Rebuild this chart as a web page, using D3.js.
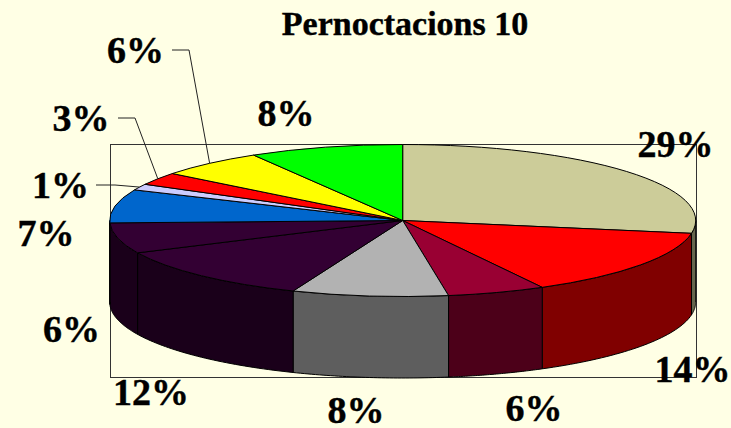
<!DOCTYPE html>
<html>
<head>
<meta charset="utf-8">
<script src="https://cdnjs.cloudflare.com/ajax/libs/d3/7.8.5/d3.min.js"></script>
<style>
  html, body { margin: 0; padding: 0; background: #ffffe5; overflow: hidden; }
  text { font-family: "Liberation Serif", serif; font-weight: bold; fill: #000; stroke: #000; stroke-width: 0.4px; }
</style>
</head>
<body>
<div id="app"></div>
<script>
// shares as drawn on the tilted pie, printed percentages kept apart
const shares = [27.7, 14.4, 5.4, 8.6, 11.9, 6.5, 7.1, 1.3, 2.7, 5.9, 8.5];
const labels = ['29%', '14%', '6%', '8%', '12%', '6%', '7%', '1%', '3%', '6%', '8%'];
const topColors = ['#cccc99', '#ff0000', '#990033', '#b2b2b2', '#330033', '#330033', '#0066cc', '#ccccff', '#ff0000', '#ffff00', '#00ff00'];
const sideColors = ['#66664d', '#800000', '#4c0019', '#5e5e5e', '#1a001a', '#1a001a', '#003366', '#666680', '#800000', '#808000', '#008000'];

const width = 731;
const height = 428;
const frame = {left: 110, right: 696, top: 144, bottom: 378};
const cx = 402.7;
const cy = 220.5;
const rx = 293;
const ry = 76;
const depth = 81.5;

// label centres and baselines, same order as the slices
const labelX = [675.5, 692.5, 534, 356, 151, 71.5, 46, 60.5, 81, 135.5, 286];
const labelY = [157, 382, 421, 423, 405, 342, 246, 198, 131, 63, 126];
// leader elbows for the small slices: index -> [start x, elbow x, y]
const leaders = {7: [96, 115, 185], 8: [118, 135, 118], 9: [172, 189, 50]};

const svg = d3.select('#app')
    .append('svg')
        .attr('width', width)
        .attr('height', height)
        .style('display', 'block');

svg.append('rect')
    .attr('x', frame.left + 0.5)
    .attr('y', frame.top + 0.5)
    .attr('width', frame.right - frame.left)
    .attr('height', frame.bottom - frame.top - 1)
    .attr('fill', 'none')
    .attr('stroke', '#333')
    .attr('stroke-width', 1);

const slices = d3.pie().sort(null).value(d => d)(shares);

const ellipseX = a => cx + rx * Math.sin(a);
const ellipseY = a => cy - ry * Math.cos(a);

// walls: only the part of each slice that faces the viewer
const wall = d3.area()
    .x(ellipseX)
    .y0(ellipseY)
    .y1(a => ellipseY(a) + depth);

svg.append('g')
    .selectAll('path')
    .data(slices.filter(d => d.endAngle > Math.PI / 2 && d.startAngle < 3 * Math.PI / 2))
    .join('path')
        .attr('d', d => {
            const a0 = Math.max(d.startAngle, Math.PI / 2);
            const a1 = Math.min(d.endAngle, 3 * Math.PI / 2);
            const n = 40;
            return wall(d3.range(n + 1).map(i => a0 + (a1 - a0) * i / n));
        })
        .attr('fill', d => sideColors[d.index])
        .attr('stroke', '#000')
        .attr('stroke-width', 1);

// top face
const arc = d3.arc().innerRadius(0).outerRadius(rx);

svg.append('g')
    .attr('transform', 'translate(' + cx + ',' + cy + ') scale(1,' + (ry / rx) + ')')
    .selectAll('path')
    .data(slices)
    .join('path')
        .attr('d', arc)
        .attr('fill', d => topColors[d.index])
        .attr('stroke', '#000')
        .attr('stroke-width', 1)
        .attr('vector-effect', 'non-scaling-stroke');

// leader lines
svg.append('g')
    .selectAll('path')
    .data(slices.filter(d => leaders[d.index]))
    .join('path')
        .attr('d', d => {
            const [x0, x1, y] = leaders[d.index];
            const mid = (d.startAngle + d.endAngle) / 2;
            return d3.line()([[x0, y], [x1, y], [ellipseX(mid), ellipseY(mid)]]);
        })
        .attr('fill', 'none')
        .attr('stroke', '#222')
        .attr('stroke-width', 1);

svg.append('g')
    .selectAll('text')
    .data(labels)
    .join('text')
        .attr('x', (d, i) => labelX[i])
        .attr('y', (d, i) => labelY[i])
        .attr('text-anchor', 'middle')
        .attr('font-size', 38)
        .text(d => d);

svg.append('text')
    .attr('x', 405)
    .attr('y', 35)
    .attr('text-anchor', 'middle')
    .attr('font-size', 34)
    .text('Pernoctacions 10');
</script>
</body>
</html>
